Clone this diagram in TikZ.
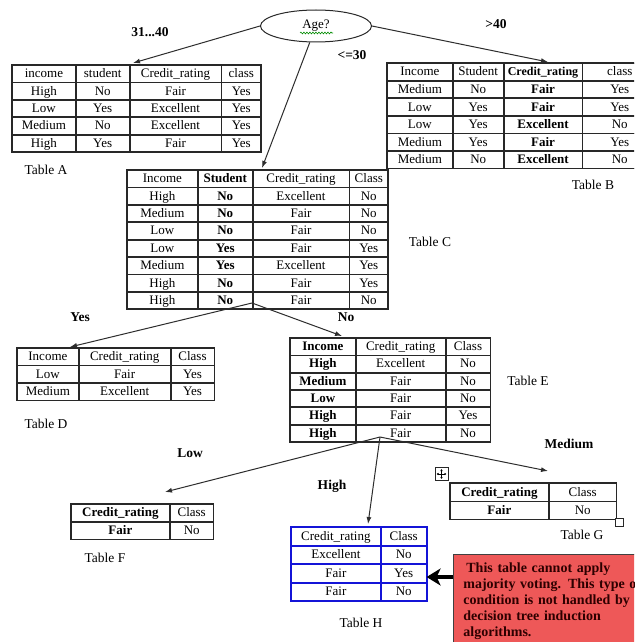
\documentclass[tikz,border=0pt]{standalone}
\usepackage{fontspec}
\setmainfont{Liberation Serif}
\usetikzlibrary{arrows.meta,matrix,shapes.geometric,decorations.pathmorphing}
\definecolor{tline}{RGB}{40,40,40}
\definecolor{arrowc}{RGB}{45,45,45}
\definecolor{blueline}{RGB}{20,20,215}
\definecolor{notered}{RGB}{238,88,88}
\definecolor{notetext}{RGB}{45,0,0}
\tikzset{
 tbl/.style={matrix of nodes, anchor=north west, inner sep=0pt, outer sep=0pt,
   column sep=0pt, row sep=0pt,
   nodes={draw=tline, line width=0.8pt, inner sep=0pt, outer sep=0pt,
     text height=10pt, text depth=2pt, anchor=center,
     font=\fontsize{13}{14}\selectfont}},
 tblframe/.style={draw=tline, line width=1.6pt},
 brlabel/.style={font=\fontsize{13.5}{16}\selectfont\bfseries},
 tcap/.style={font=\fontsize{13.5}{15}\selectfont},
 conn/.style={draw=arrowc, line width=1pt, -{Latex[length=7pt,width=5pt]}},
 bigarrow/.style={draw=black, line width=3.2pt, -{Stealth[length=14pt,width=17pt,inset=4pt]}},
}
\begin{document}
\begin{tikzpicture}[x=1pt,y=-1pt]
\useasboundingbox (0,0) rectangle (634,642);
\clip (0,0) rectangle (634,642);
\fill[white] (0,0) rectangle (634,642);

% root
\node[ellipse, draw=tline, line width=1pt, minimum width=111pt, minimum height=32pt,
  inner sep=0pt, font=\fontsize{13}{14}\selectfont] (age) at (316,26) {Age?};
\draw[green!55!black, line width=0.6pt, decorate,
  decoration={snake, amplitude=0.9pt, segment length=3pt}] (300,33) -- (333,33);

% branch labels
\node[brlabel] (l3140) at (150,32) {31...40};
\node[brlabel] (lgt40) at (496,24) {>40};
\node[brlabel] (lle30) at (352,55) {<=30};
\node[brlabel] (lyes) at (80,317) {Yes};
\node[brlabel] (lno) at (346,317) {No};
\node[brlabel] (llow) at (190,453) {Low};
\node[brlabel] (lhigh) at (332,486) {High};
\node[brlabel] (lmed) at (569,444) {Medium};

% Table A
\matrix (tA) [tbl, nodes={minimum height=16.6pt},
  column 1/.style={minimum width=63pt}, column 2/.style={minimum width=53pt},
  column 3/.style={minimum width=91pt}, column 4/.style={minimum width=39pt}] at (12,65) {
income & student & Credit\_rating & class\\
High & No & Fair & Yes\\
Low & Yes & Excellent & Yes\\
Medium & No & Excellent & Yes\\
High & Yes & Fair & Yes\\
};
\draw[tblframe] (tA.north west) rectangle (tA.south east);
\node[tcap] (capA) at (46,170) {Table A};

% Table B
\matrix (tB) [tbl, nodes={minimum height=16.8pt},
  column 1/.style={minimum width=65pt}, column 2/.style={minimum width=50pt},
  column 3/.style={minimum width=78pt}, column 4/.style={minimum width=74pt}] at (387,63) {
Income & Student & \fontsize{12}{14}\selectfont\textbf{Credit\_rating} & class\\
Medium & No & \textbf{Fair} & Yes\\
Low & Yes & \textbf{Fair} & Yes\\
Low & Yes & \textbf{Excellent} & No\\
Medium & Yes & \textbf{Fair} & Yes\\
Medium & No & \textbf{Excellent} & No\\
};
\draw[tblframe] (tB.north west) rectangle (tB.south east);
\node[tcap] (capB) at (593,185) {Table B};

% Table C
\matrix (tC) [tbl, nodes={minimum height=16.6pt},
  column 1/.style={minimum width=70pt}, column 2/.style={minimum width=54pt},
  column 3/.style={minimum width=96pt}, column 4/.style={minimum width=38pt}] at (127,170) {
Income & \textbf{Student} & Credit\_rating & Class\\
High & \textbf{No} & Excellent & No\\
Medium & \textbf{No} & Fair & No\\
Low & \textbf{No} & Fair & No\\
Low & \textbf{Yes} & Fair & Yes\\
Medium & \textbf{Yes} & Excellent & Yes\\
High & \textbf{No} & Fair & Yes\\
High & \textbf{No} & Fair & No\\
};
\draw[tblframe] (tC.north west) rectangle (tC.south east);
\node[tcap] (capC) at (430,242) {Table C};

% Table D
\matrix (tD) [tbl, nodes={minimum height=16.67pt},
  column 1/.style={minimum width=61pt}, column 2/.style={minimum width=91pt},
  column 3/.style={minimum width=43pt}] at (17,348) {
Income & Credit\_rating & Class\\
Low & Fair & Yes\\
Medium & Excellent & Yes\\
};
\draw[tblframe] (tD.north west) rectangle (tD.south east);
\node[tcap] (capD) at (46,424) {Table D};

% Table E
\matrix (tE) [tbl, nodes={minimum height=16.5pt},
  column 1/.style={minimum width=65pt}, column 2/.style={minimum width=89pt},
  column 3/.style={minimum width=44pt}] at (290,338) {
\textbf{Income} & Credit\_rating & Class\\
\textbf{High} & Excellent & No\\
\textbf{Medium} & Fair & No\\
\textbf{Low} & Fair & No\\
\textbf{High} & Fair & Yes\\
\textbf{High} & Fair & No\\
};
\draw[tblframe] (tE.north west) rectangle (tE.south east);
\node[tcap] (capE) at (528,381) {Table E};

% Table F
\matrix (tF) [tbl, nodes={minimum height=17pt},
  column 1/.style={minimum width=98pt}, column 2/.style={minimum width=43pt}] at (71,504) {
\textbf{Credit\_rating} & Class\\
\textbf{Fair} & No\\
};
\draw[tblframe] (tF.north west) rectangle (tF.south east);
\node[tcap] (capF) at (105,558) {Table F};

% Table G
\matrix (tG) [tbl, nodes={minimum height=17.5pt},
  column 1/.style={minimum width=98pt}, column 2/.style={minimum width=67pt}] at (450,483) {
\textbf{Credit\_rating} & Class\\
\textbf{Fair} & No\\
};
\draw[tblframe] (tG.north west) rectangle (tG.south east);
\node[tcap] (capG) at (582,535) {Table G};
\node[draw=tline, fill=white, line width=0.6pt, minimum size=13pt, inner sep=0pt] (mvicon) at (441.5,474) {};
\draw[line width=0.5pt, {Latex[length=2pt,width=2.5pt]}-{Latex[length=2pt,width=2.5pt]}] (436.5,474) -- (446.5,474);
\draw[line width=0.5pt, {Latex[length=2pt,width=2.5pt]}-{Latex[length=2pt,width=2.5pt]}] (441.5,469) -- (441.5,479);
\node[draw=tline, fill=white, line width=0.7pt, minimum size=8pt, inner sep=0pt] (rsz) at (619,522) {};

% Table H
\matrix (tH) [tbl, nodes={draw=blueline, minimum height=17.75pt},
  column 1/.style={minimum width=89pt}, column 2/.style={minimum width=45pt}] at (291,527) {
Credit\_rating & Class\\
Excellent & No\\
Fair & Yes\\
Fair & No\\
};
\draw[draw=blueline, line width=2pt] (tH.north west) rectangle (tH.south east);
\node[tcap] (capH) at (361,623) {Table H};

% note
\node[draw=black!75, line width=0.8pt, fill=notered, anchor=north west,
  text width=200pt, inner xsep=10pt, inner ysep=8pt, align=left, text=notetext,
  font=\fontsize{14}{16}\selectfont\bfseries] (note) at (453,554)
  {\hspace*{3pt}This table cannot apply\\majority voting. This type of\\condition is not handled by\\decision tree induction\\algorithms.};

% connectors
\coordinate (tipA) at (133,63);
\coordinate (tipB) at (548,62);
\coordinate (tipC) at (262,168);
\draw[conn] (age.west) -- (tipA);
\draw[conn] (age.east) -- (tipB);
\draw[conn] (age) -- (tipC);

\coordinate (splitC) at (252,303);
\coordinate (tipD) at (70,347);
\coordinate (tipE) at (342,336);
\draw[conn] (splitC) -- (tipD);
\draw[conn] (splitC) -- (tipE);

\coordinate (splitE) at (380,437);
\coordinate (tipF) at (165,492);
\coordinate (tipG) at (548,471);
\coordinate (tipH) at (368,524);
\draw[conn] (splitE) -- (tipF);
\draw[conn] (splitE) -- (tipG);
\draw[conn] (splitE) -- (tipH);

\coordinate (noteA) at (453,577);
\draw[bigarrow] (noteA) -- (tH.east |- noteA);
\end{tikzpicture}
\end{document}
